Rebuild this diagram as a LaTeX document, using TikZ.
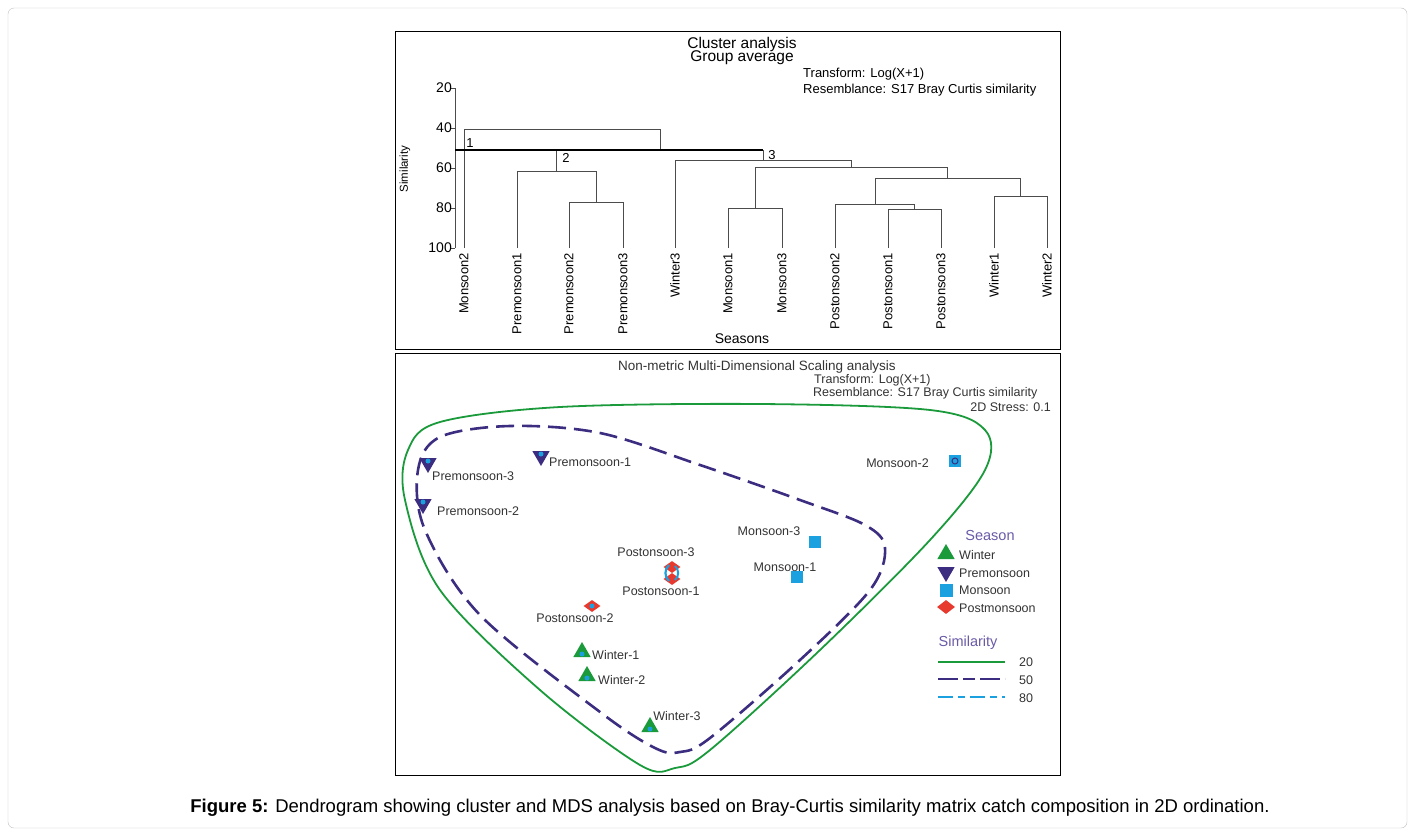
\documentclass[tikz,border=0pt]{standalone}
\usepackage{fontspec}
\setmainfont{Liberation Sans}
\usetikzlibrary{shapes.geometric}
\definecolor{gr}{HTML}{1A9A3A}
\definecolor{pu}{HTML}{3C2D80}
\definecolor{cy}{HTML}{1BA1DF}
\definecolor{rd}{HTML}{E8392E}
\definecolor{lp}{HTML}{6A5AA8}
\begin{document}
\begin{tikzpicture}[x=1pt,y=-1pt,
 den/.style={draw=black!70,line width=0.8pt},
 lab/.style={font=\fontsize{13}{14}\selectfont,inner sep=1pt},
 leaf/.style={font=\fontsize{13}{14}\selectfont,rotate=90,anchor=east,inner sep=1pt},
 ml/.style={font=\fontsize{12.5}{14}\selectfont,text=black!80,inner sep=1pt},
 tu/.style={regular polygon,regular polygon sides=3,fill=gr,minimum size=20pt,inner sep=0pt},
 td/.style={regular polygon,regular polygon sides=3,shape border rotate=180,fill=pu,minimum size=20pt,inner sep=0pt},
 sq/.style={rectangle,fill=cy,minimum size=12pt,inner sep=0pt},
 dm/.style={diamond,fill=rd,minimum width=17pt,minimum height=12pt,inner sep=0pt},
 dot/.style={circle,fill=cy,minimum size=5pt,inner sep=0pt}]
\useasboundingbox (0,0) rectangle (1415,835);
\draw[black!25,rounded corners=6] (8,8) rectangle (1407,828);
\draw[black,line width=1pt] (395,31) rectangle (1060,349);
\draw[black,line width=1pt] (395,353) rectangle (1060,775);
% ---- dendrogram
\node[lab,font=\fontsize{15.5}{17}\selectfont] (t1) at (742,44) {Cluster analysis};
\node[lab,font=\fontsize{15.5}{17}\selectfont] (t2) at (742,58) {Group average};
\node[lab,anchor=west] (t3) at (802,74) {Transform: Log(X+1)};
\node[lab,anchor=west] (t4) at (802,90) {Resemblance: S17 Bray Curtis similarity};
\draw[den] (455,88) -- (455,248);
\foreach \s/\y in {20/88,40/128,60/168,80/208,100/248}{
  \draw[den] (450,\y) -- (455,\y);
  \node[lab,anchor=east,font=\fontsize{14}{15}\selectfont] at (453,\y) {\s};}
\node[lab,rotate=90,font=\fontsize{11.5}{13}\selectfont] (ylab) at (405,169) {Similarity};
\node[lab,font=\fontsize{14}{15}\selectfont] (xlab) at (742,339) {Seasons};
\foreach \x/\n in {464/Monsoon2,517/Premonsoon1,569/Premonsoon2,623/Premonsoon3,675/Winter3,728/Monsoon1,782/Monsoon3,835/Postonsoon2,888/Postonsoon1,941/Postonsoon3,994/Winter1,1047/Winter2}
  \node[leaf] at (\x,252) {\n};
% clusters
\draw[den] (569,248) |- (623,202) -- (623,248);
\draw[den] (517,248) |- (596,171) -- (596,202);
\draw[den] (556,171) -- (556,150);
\draw[den] (728,248) |- (782,208) -- (782,248);
\draw[den] (888,248) |- (941,209) -- (941,248);
\draw[den] (835,248) |- (914,204) -- (914,209);
\draw[den] (994,248) |- (1047,196) -- (1047,248);
\draw[den] (875,204) |- (1020,178) -- (1020,196);
\draw[den] (755,208) |- (947,167) -- (947,178);
\draw[den] (675,248) |- (851,160) -- (851,167);
\draw[den] (763,160) -- (763,150);
\draw[den] (464,248) |- (660,129) -- (660,150);
\draw[black,line width=1.8pt] (455,150) -- (763,150);
\node[lab] at (470,143) {1};
\node[lab] at (566,158) {2};
\node[lab] at (772,155) {3};
% ---- MDS
\node[ml,font=\fontsize{13.5}{14}\selectfont] (m1) at (757,367) {Non-metric Multi-Dimensional Scaling analysis};
\node[ml,anchor=west] (m2) at (813,380) {Transform: Log(X+1)};
\node[ml,anchor=west] (m3) at (812,393) {Resemblance: S17 Bray Curtis similarity};
\node[ml,anchor=east] (m4) at (1052,407) {2D Stress: 0.1};
\draw[gr,line width=1.8pt] plot[smooth cycle,tension=0.55] coordinates {(640,765) (540,690) (440,590) (405,500) (408,450) (440,422) (560,407) (760,404) (930,410) (985,430) (985,470) (930,540) (820,650) (710,750) (675,768)};
\draw[pu,line width=2.6pt,dash pattern=on 18pt off 8pt] plot[smooth cycle,tension=0.55] coordinates {(655,748) (600,712) (480,615) (425,530) (418,470) (440,437) (510,426) (600,433) (700,465) (800,500) (865,525) (885,548) (870,590) (800,660) (710,738) (680,752)};
% markers
\node[td] (p3) at (428,463) {}; \node[dot] at (428,461) {};
\node[ml,anchor=west] at (431,476) {Premonsoon-3};
\node[td] (p1) at (541,456) {}; \node[dot] at (541,454) {};
\node[ml,anchor=west] at (548,462) {Premonsoon-1};
\node[td] (p2) at (423,504) {}; \node[dot] at (423,502) {};
\node[ml,anchor=west] at (436,511) {Premonsoon-2};
\node[sq] (mo2) at (955,461) {}; \node[circle,draw=pu,line width=1pt,minimum size=6pt,inner sep=0pt] at (955,461) {};
\node[ml,anchor=east] at (930,463) {Monsoon-2};
\node[sq] (mo3) at (815,542) {}; \node[ml] at (769,531) {Monsoon-3};
\node[sq] (mo1) at (797,577) {}; \node[ml] at (785,567) {Monsoon-1};
\node[ml] at (656,552) {Postonsoon-3};
\node[dm] (ps3) at (672,567) {}; \node[dm] (ps1) at (672,579) {};
\draw[cy,line width=2.2pt] (669,565) to[bend right=50] (669,581);
\draw[cy,line width=2pt] (675,566) to[bend left=50] (675,580);
\node[ml] at (661,591) {Postonsoon-1};
\node[dm] (ps2) at (592,606) {}; \node[dot] at (592,606) {};
\node[ml] at (575,618) {Postonsoon-2};
\node[tu] (w1) at (582,652) {}; \node[dot] at (582,654) {};
\node[ml,anchor=west] at (591,655) {Winter-1};
\node[tu] (w2) at (587,676) {}; \node[dot] at (587,678) {};
\node[ml,anchor=west] at (597,680) {Winter-2};
\node[tu] (w3) at (650,727) {}; \node[dot] at (650,729) {};
\node[ml] at (677,716) {Winter-3};
% legend
\node[ml,text=lp,font=\fontsize{14.5}{15}\selectfont] (lg1) at (990,536) {Season};
\node[tu] (l1) at (946,554) {}; \node[ml,anchor=west] at (958,555) {Winter};
\node[td] (l2) at (946,572) {}; \node[ml,anchor=west] at (958,573) {Premonsoon};
\node[sq,minimum size=13pt] (l3) at (946,590) {}; \node[ml,anchor=west] at (958,590) {Monsoon};
\node[dm,minimum width=18pt,minimum height=14pt] (l4) at (946,607) {}; \node[ml,anchor=west] at (958,608) {Postmonsoon};
\node[ml,text=lp,font=\fontsize{14.5}{15}\selectfont] (lg2) at (968,643) {Similarity};
\coordinate (a1) at (938,662); \coordinate (a2) at (1005,662);
\coordinate (b1) at (938,679); \coordinate (b2) at (1005,679);
\coordinate (c1) at (938,697); \coordinate (c2) at (1005,697);
\draw[gr,line width=1.8pt] (a1) -- (a2);
\draw[pu,line width=2.4pt,dash pattern=on 20pt off 5pt on 12pt off 5pt] (b1) -- (b2);
\draw[cy,line width=2.4pt,dash pattern=on 15pt off 5pt on 7pt off 5pt] (c1) -- (c2);
\node[ml,anchor=west] at (1018,662) {20};
\node[ml,anchor=west] at (1018,680) {50};
\node[ml,anchor=west] at (1018,698) {80};
% caption
\node[font=\fontsize{18.5}{20}\selectfont,inner sep=0pt] (cap) at (730,808) {\textbf{Figure 5:} Dendrogram showing cluster and MDS analysis based on Bray-Curtis similarity matrix catch composition in 2D ordination.};
\end{tikzpicture}
\end{document}
